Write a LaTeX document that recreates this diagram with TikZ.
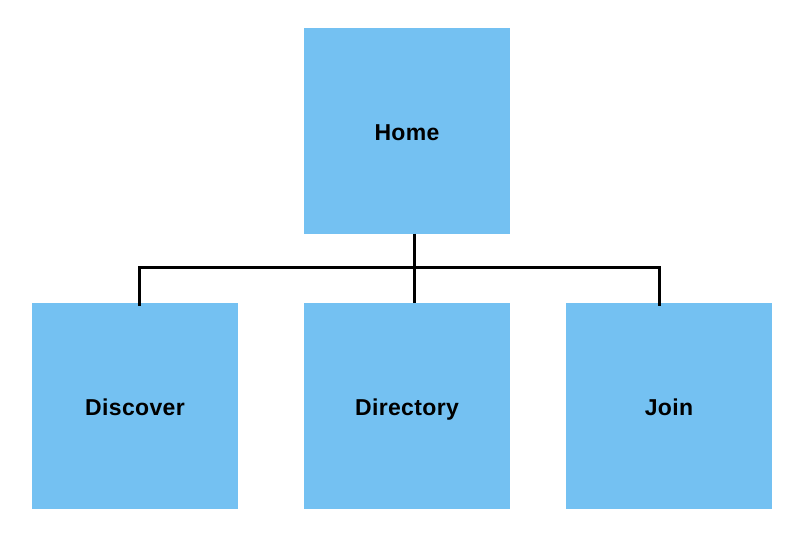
\documentclass[tikz,border=0pt]{standalone}
\usepackage{fontspec}
\setmainfont{Liberation Sans}[LetterSpace=1.5]
\definecolor{boxblue}{RGB}{116,193,242}
\begin{document}
\begin{tikzpicture}[x=1pt,y=-1pt,
  page/.style={fill=boxblue, draw=none, minimum width=206pt, minimum height=206pt, inner sep=0pt, text height=19.5pt, text depth=0pt, font=\fontsize{23}{27}\selectfont\bfseries, text=black},
  link/.style={line width=3pt, draw=black}]
\useasboundingbox (0,0) rectangle (800,533);
\node[page] (home) at (407,130.5) {Home};
\node[page] (disc) at (135,406) {Discover};
\node[page] (dir) at (407,406) {Directory};
\node[page] (join) at (669,406) {Join};
\coordinate (bar) at (414.5,267);
\coordinate (lt) at (139,306);
\coordinate (rt) at (659,306);
\draw[link] (home.south -| bar) -- (dir.north -| bar);
\draw[link] (lt) |- (bar) -| (rt);
\end{tikzpicture}
\end{document}
